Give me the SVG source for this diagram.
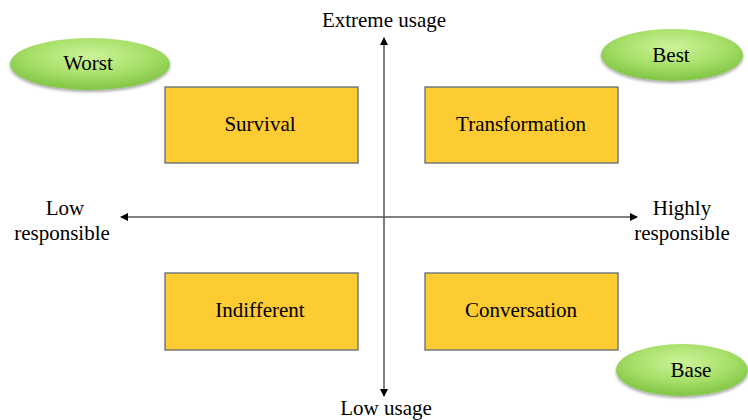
<svg xmlns="http://www.w3.org/2000/svg" width="748" height="420" viewBox="0 0 748 420">
<defs>
<radialGradient id="g" cx="50%" cy="35%" r="60%">
<stop offset="0" stop-color="#cdf39a"/>
<stop offset="0.6" stop-color="#a8e06a"/>
<stop offset="1" stop-color="#86c84a"/>
</radialGradient>
<filter id="sh" x="-20%" y="-30%" width="140%" height="170%">
<feGaussianBlur in="SourceAlpha" stdDeviation="1.5"/>
<feOffset dx="0" dy="2" result="b"/>
<feComponentTransfer><feFuncA type="linear" slope="0.35"/></feComponentTransfer>
<feMerge><feMergeNode/><feMergeNode in="SourceGraphic"/></feMerge>
</filter>
<marker id="ah" markerWidth="8" markerHeight="8" refX="7" refY="4" orient="auto" markerUnits="userSpaceOnUse">
<path d="M0,0 L8,4 L0,8 Z" fill="#000"/>
</marker>
</defs>
<style>
text{font-family:"Liberation Serif","Times New Roman",serif;fill:#000;text-anchor:middle;font-size:21px}
.box{fill:#fdcb32;stroke:#5f6a78;stroke-width:1.3}
.ell{fill:url(#g);filter:url(#sh)}
.ax{stroke:#555;stroke-width:1.5;fill:none;marker-end:url(#ah)}
</style>
<rect width="748" height="420" fill="#fff"/>
<g id="connectors">
<line class="ax" x1="384" y1="217" x2="384" y2="38"/>
<line class="ax" x1="384" y1="217" x2="384" y2="396"/>
<line class="ax" x1="384" y1="217" x2="121" y2="217"/>
<line class="ax" x1="384" y1="217" x2="637" y2="217"/>
</g>
<g id="worst"><ellipse class="ell" cx="90" cy="64" rx="80" ry="26"/><text x="88" y="70">Worst</text></g>
<g id="best"><ellipse class="ell" cx="672" cy="55" rx="71" ry="26"/><text x="671" y="62">Best</text></g>
<g id="base"><ellipse class="ell" cx="682" cy="370" rx="66" ry="26"/><text x="691" y="377">Base</text></g>
<g id="survival"><rect class="box" x="165" y="87" width="193" height="76"/><text x="260" y="131">Survival</text></g>
<g id="transformation"><rect class="box" x="425" y="87" width="193" height="76"/><text x="521" y="131">Transformation</text></g>
<g id="indifferent"><rect class="box" x="165" y="273" width="193" height="77"/><text x="260" y="317">Indifferent</text></g>
<g id="conversation"><rect class="box" x="425" y="273" width="193" height="77"/><text x="521" y="317">Conversation</text></g>
<g id="labels">
<text x="384" y="27">Extreme usage</text>
<text x="386" y="415">Low usage</text>
<text x="65" y="215">Low</text>
<text x="62" y="240">responsible</text>
<text x="682" y="215">Highly</text>
<text x="682" y="240">responsible</text>
</g>
</svg>
